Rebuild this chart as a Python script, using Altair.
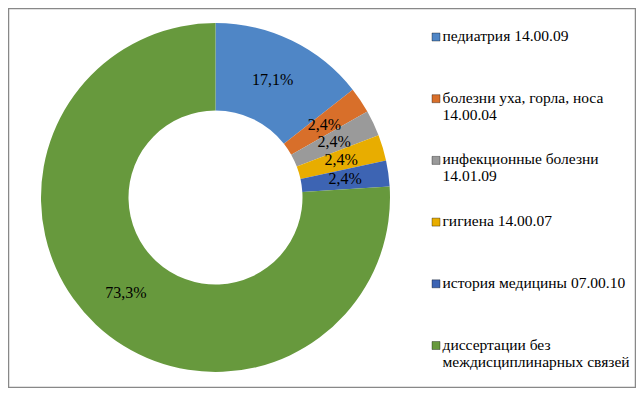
import altair as alt
import pandas as pd

# Legend entries ("|" marks where the label wraps)
categories = [
    "педиатрия 14.00.09",
    "болезни уха,  горла, носа|14.00.04",
    "инфекционные болезни|14.01.09",
    "гигиена 14.00.07",
    "история медицины 07.00.10",
    "диссертации без|междисциплинарных связей",
]
# Slice sizes as drawn (percent of the full circle)
shares = [14.4, 2.4, 2.4, 2.4, 2.4, 76.0]
# Data labels as printed on the slices
label_texts = ["17,1%", "2,4%", "2,4%", "2,4%", "2,4%", "73,3%"]
colors = ["#4F86C6", "#D86F2A", "#9A9A9A", "#E8AD00", "#3D64B3", "#67993D"]

df = pd.DataFrame({
    "cat": categories,
    "share": shares,
    "label": label_texts,
    "idx": list(range(len(categories))),
})

FONT = "Liberation Serif"

color_enc = alt.Color(
    "cat:N", scale=alt.Scale(domain=categories, range=colors), legend=None
)

base = alt.Chart(df).encode(
    theta=alt.Theta("share:Q", stack=True),
    order=alt.Order("idx:Q"),
    x=alt.value(207.5),
    y=alt.value(189.5),
)

arcs = base.mark_arc(innerRadius=87, outerRadius=174.5).encode(color=color_enc)

labels = base.mark_text(radius=131, font=FONT, fontSize=16, color="#000000").encode(
    text="label:N"
)

# Legend built from the same data, entries spaced evenly down the right side
leg_y = alt.Y(
    "cat:N",
    scale=alt.Scale(type="point", domain=categories, range=[29, 337.5], padding=0),
    axis=None,
)

leg_symbols = alt.Chart(df).mark_square(
    size=64, stroke="#000000", strokeOpacity=0.35, strokeWidth=1, opacity=1
).encode(x=alt.value(428), y=leg_y, color=color_enc)

leg_text = alt.Chart(df).mark_text(
    align="left", baseline="top", dy=-8, font=FONT, fontSize=15.5,
    lineHeight=17, lineBreak="|", color="#000000"
).encode(x=alt.value(434.5), y=leg_y, text="cat:N")

chart = (
    (arcs + labels + leg_symbols + leg_text)
    .properties(width=628, height=380, padding=0, autosize="none")
    .configure_view(stroke="#888888", strokeWidth=2.5)
)

chart.save("out.html", embed_options={"renderer": "svg", "actions": False})
